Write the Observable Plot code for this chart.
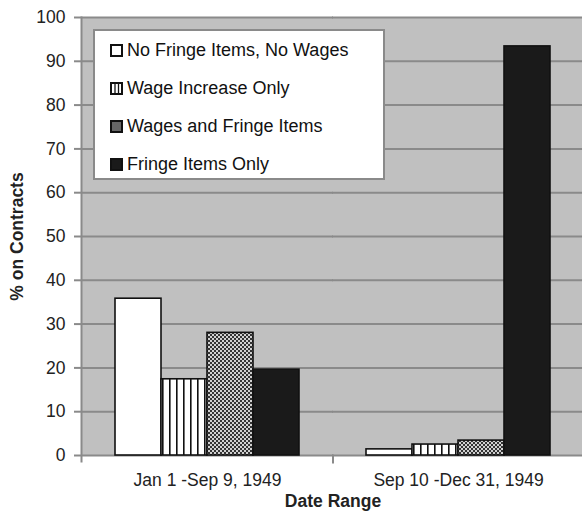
<!DOCTYPE html>
<html>
<head>
<meta charset="utf-8">
<script src="https://cdn.jsdelivr.net/npm/d3@7"></script>
<script src="https://cdn.jsdelivr.net/npm/@observablehq/plot@0.6"></script>
<style>
  body { margin: 0; background: white; }
  #wrap { position: relative; width: 582px; height: 512px; font-family: "Liberation Sans", Arial, sans-serif; }
  svg [aria-label="y-axis label"] text, svg [aria-label="fx-axis label"] text,
  svg [aria-label="y-axis label"], svg [aria-label="fx-axis label"] { font-weight: bold; font-size: 17.5px; }
  #legend { position: absolute; left: 93px; top: 29px; width: 292px; height: 151px; background: white;
            border: 2px solid #8a8a8a; box-sizing: border-box; }
  .item { position: absolute; left: 15px; height: 20px; display: flex; align-items: center; font-size: 18px; color: #111; white-space: nowrap; }
  .item svg { margin-right: 4px; }
</style>
</head>
<body>
<div id="wrap"></div>
<script>
const groups = ["Jan 1 -Sep 9, 1949", "Sep 10 -Dec 31, 1949"];
const series = ["No Fringe Items, No Wages", "Wage Increase Only", "Wages and Fringe Items", "Fringe Items Only"];
const janSep = [35.8, 17.4, 28.0, 19.6];
const sepDec = [1.4, 2.5, 3.4, 93.4];
const yTicks = [0, 10, 20, 30, 40, 50, 60, 70, 80, 90, 100];

const fills = ["url(#pWhite)", "url(#pStripe)", "url(#pCheck)", "url(#pDark)"];

const data = [];
series.forEach((s, i) => {
  data.push({group: groups[0], series: s, value: janSep[i]});
  data.push({group: groups[1], series: s, value: sepDec[i]});
});

const ext = -34; // extend beyond the outer facets so the plot area reaches the frame edges

const chart = Plot.plot({
  width: 582,
  height: 512,
  marginLeft: 115,
  marginRight: 32,
  marginTop: 17,
  marginBottom: 57,
  style: {fontFamily: "'Liberation Sans', Arial, sans-serif", fontSize: "17.5px", color: "#222", background: "white", overflow: "visible"},
  fx: {domain: groups, paddingInner: 0.267, paddingOuter: 0},
  x: {domain: series, padding: 0, axis: null},
  y: {domain: [0, 100]},
  color: {domain: series, range: fills},
  marks: [
    Plot.frame({facet: "super", fill: "#c0c0c0", insetLeft: ext, insetRight: -32}),
    Plot.ruleY(yTicks, {stroke: "#8a8a8a", strokeWidth: 2, insetLeft: -34, insetRight: -34}),
    Plot.frame({facet: "super", anchor: "left", stroke: "#8a8a8a", strokeWidth: 2, insetLeft: ext, insetBottom: -6}),
    Plot.frame({anchor: "right", stroke: "#8a8a8a", strokeWidth: 2, insetRight: -33.5, insetTop: 438, insetBottom: -7}),
    Plot.barY(data, {fx: "group", x: "series", y: "value", fill: "series", stroke: "#111", strokeWidth: 1.6}),
    Plot.axisY({ticks: yTicks, tickSize: 7, tickPadding: 9, stroke: "#8a8a8a", strokeWidth: 2, dx: ext,
                label: "% on Contracts", labelAnchor: "center", labelArrow: "none", labelOffset: 105, fontSize: 17.5}),
    Plot.axisFx({anchor: "bottom", tickSize: 0, tickPadding: 18, label: "Date Range", labelAnchor: "center", labelArrow: "none", labelOffset: 51, fontSize: 17.5})
  ]
});

const defs = d3.select(chart).insert("defs", ":first-child");
const pw = defs.append("pattern").attr("id", "pWhite").attr("patternUnits", "userSpaceOnUse").attr("width", 4).attr("height", 4);
pw.append("rect").attr("width", 4).attr("height", 4).attr("fill", "white");
const ps = defs.append("pattern").attr("id", "pStripe").attr("patternUnits", "userSpaceOnUse").attr("width", 7).attr("height", 7).attr("x", 1);
ps.append("rect").attr("width", 7).attr("height", 7).attr("fill", "white");
ps.append("rect").attr("x", 0).attr("width", 1.6).attr("height", 7).attr("fill", "#111");
const pc = defs.append("pattern").attr("id", "pCheck").attr("patternUnits", "userSpaceOnUse").attr("width", 4).attr("height", 4);
pc.append("rect").attr("width", 4).attr("height", 4).attr("fill", "#d0d0d0");
pc.append("rect").attr("width", 2).attr("height", 2).attr("fill", "#333");
pc.append("rect").attr("x", 2).attr("y", 2).attr("width", 2).attr("height", 2).attr("fill", "#333");
const pd = defs.append("pattern").attr("id", "pDark").attr("patternUnits", "userSpaceOnUse").attr("width", 4).attr("height", 4);
pd.append("rect").attr("width", 4).attr("height", 4).attr("fill", "#1a1a1a");

const wrap = document.getElementById("wrap");
wrap.appendChild(chart);

// Legend
const legend = document.createElement("div");
legend.id = "legend";
const swatchSvgs = [
  `<rect x="1" y="1" width="11" height="11" fill="white" stroke="#111" stroke-width="2"/>`,
  `<rect x="1" y="1" width="11" height="11" fill="white" stroke="#111" stroke-width="2"/><line x1="5" y1="1" x2="5" y2="12" stroke="#111" stroke-width="1.3"/><line x1="8.5" y1="1" x2="8.5" y2="12" stroke="#111" stroke-width="1.3"/>`,
  `<rect x="1" y="1" width="11" height="11" fill="#666" stroke="#111" stroke-width="2"/>`,
  `<rect x="1" y="1" width="11" height="11" fill="#1a1a1a" stroke="#111" stroke-width="2"/>`
];
series.forEach((s, i) => {
  const it = document.createElement("div");
  it.className = "item";
  it.style.top = (9 + i * 38) + "px";
  it.innerHTML = `<svg width="13" height="13">${swatchSvgs[i]}</svg><span>${s}</span>`;
  legend.appendChild(it);
});
wrap.appendChild(legend);
</script>
</body>
</html>
